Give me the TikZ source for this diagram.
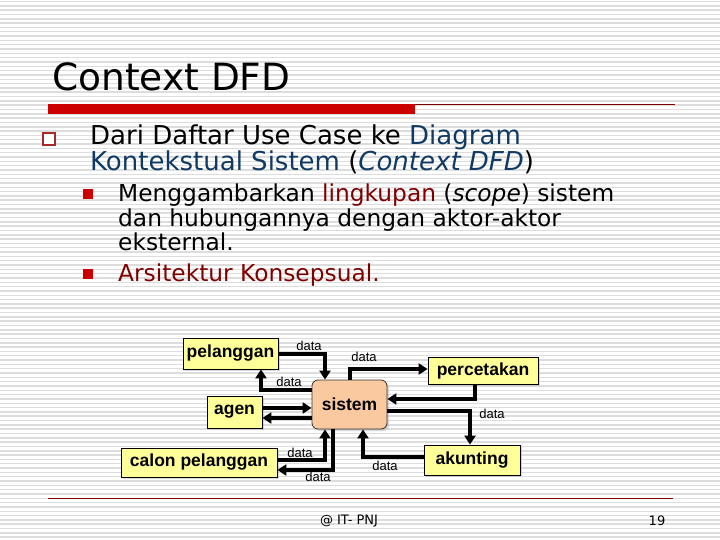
\documentclass[tikz,border=0pt]{standalone}
\usepackage{fontspec}
\setmainfont{DejaVu Sans}
\newfontfamily\boxfont{Liberation Sans}
\usepackage{tikz}
\usetikzlibrary{arrows.meta}
\usetikzlibrary{shadows}
\usepackage{xcolor}

\definecolor{stripegray}{HTML}{DDDDDD}
\definecolor{barred}{HTML}{CC0000}
\definecolor{linered}{HTML}{800000}
\definecolor{bulletred}{HTML}{A52A2A}
\definecolor{textblue}{HTML}{103A64}
\definecolor{textred}{HTML}{800000}
\definecolor{boxyellow}{HTML}{FFFF99}
\definecolor{procpeach}{HTML}{FAC99F}

\tikzset{
  stripe/.style={stripegray, line width=1.5pt},
  entity/.style={draw=black, line width=0.8pt, fill=boxyellow,
    font=\boxfont\bfseries\fontsize{17.5}{20}\selectfont, inner sep=0pt,
    drop shadow={shadow xshift=2pt, shadow yshift=-2pt, fill=black!30}},
  process/.style={draw=black!80, line width=0.8pt, fill=procpeach,
    rounded corners=6pt, font=\boxfont\bfseries\fontsize{17.5}{20}\selectfont,
    inner sep=0pt,
    drop shadow={shadow xshift=2pt, shadow yshift=-2pt, fill=black!30}},
  flow/.style={line width=4pt, -{Triangle[length=9pt,width=11pt]}},
  lbl/.style={font=\boxfont\fontsize{13}{15}\selectfont, inner sep=0pt},
}

\begin{document}
\begin{tikzpicture}[x=1pt, y=-1pt]
  \useasboundingbox (0,0) rectangle (720,540);
  % background stripes
  \fill[white] (0,0) rectangle (720,540);
  \foreach \yy in {1.5,5.82,...,540}
    \draw[stripe] (0,\yy) -- (720,\yy);

  % title
  \node[anchor=base west, inner sep=0pt, font=\fontsize{37.5}{40}\selectfont] (title) at (52,91) {Context DFD};
  \fill[barred] (48,104) rectangle (415,114);
  \draw[linered, line width=1pt] (415,104.5) -- (675,104.5);

  % bullets (base anchor = last line)
  \draw[bulletred, line width=1.8pt, fill=white] (43,133) rectangle (55,145);
  \node[anchor=base west, inner sep=0pt, align=left,
        font=\fontsize{26}{25}\selectfont] (item1) at (90,171)
    {Dari Daftar Use Case ke \textcolor{textblue}{Diagram}\\
     \textcolor{textblue}{Kontekstual Sistem} (\textcolor{textblue}{\itshape Context DFD})};
  \fill[barred] (83,189) rectangle (93,199);
  \node[anchor=base west, inner sep=0pt, align=left,
        font=\fontsize{23.3}{24}\selectfont] (item2) at (118,250)
    {Menggambarkan \textcolor{textred}{lingkupan} (\textit{scope}) sistem\\
     dan hubungannya dengan aktor-aktor\\
     eksternal.};
  \fill[barred] (83,269) rectangle (93,279);
  \node[anchor=base west, inner sep=0pt, font=\fontsize{23.3}{24}\selectfont] (item3) at (118,281)
    {\textcolor{textred}{Arsitektur Konsepsual.}};

  % context diagram
  \node[process, minimum width=75pt, minimum height=49pt] (sistem) at (349.5,404.5) {sistem};
  \node[entity, minimum width=95pt, minimum height=31pt] (pelanggan) at (230.5,353.5) {pelanggan};
  \node[entity, minimum width=55pt, minimum height=32pt] (agen) at (234.5,412) {agen};
  \node[entity, minimum width=156pt, minimum height=29pt] (calon) at (199,462.5) {calon pelanggan};
  \node[entity, minimum width=110pt, minimum height=27pt] (percetakan) at (483,370.5) {percetakan};
  \node[entity, minimum width=96pt, minimum height=30pt] (akunting) at (472,460) {akunting};

  \draw[flow] (pelanggan.east) -| ([xshift=-24.5pt]sistem.north);
  \draw[flow] ([yshift=14.5pt]sistem.west) -| ([xshift=30.5pt]pelanggan.south);
  \draw[flow] ([yshift=4pt]agen.east) -- ([yshift=4pt]agen.east -| sistem.west);
  \draw[flow] ([yshift=-6pt]agen.east -| sistem.west) -- ([yshift=-6pt]agen.east);
  \draw[flow] ([yshift=2.5pt]calon.east) -| ([xshift=-24.5pt]sistem.south);
  \draw[flow] ([xshift=-16.5pt]sistem.south) |- ([yshift=-7.5pt]calon.east);
  \draw[flow] ([xshift=0.5pt]sistem.north) |- ([yshift=1.5pt]percetakan.west);
  \draw[flow] ([xshift=-8pt]percetakan.south) |- ([yshift=5.5pt]sistem.east);
  \draw[flow] ([yshift=-6.5pt]sistem.east) -| ([xshift=-2pt]akunting.north);
  \draw[flow] ([yshift=3pt]akunting.west) -| ([xshift=13.5pt]sistem.south);

  \node[lbl] (d1) at (309,346) {data};
  \node[lbl] (d2) at (289,382) {data};
  \node[lbl] (d3) at (300,453) {data};
  \node[lbl] (d4) at (318,477) {data};
  \node[lbl] (d5) at (364,357) {data};
  \node[lbl] (d6) at (492,414) {data};
  \node[lbl] (d7) at (385,466) {data};

  % footer
  \draw[linered, line width=1pt] (48,498) -- (673,498);
  \node[font=\fontsize{13}{15}\selectfont, inner sep=0pt] (foot) at (349,521) {@ IT- PNJ};
  \node[font=\fontsize{13}{15}\selectfont, inner sep=0pt] (page) at (657,521) {19};
\end{tikzpicture}
\end{document}
